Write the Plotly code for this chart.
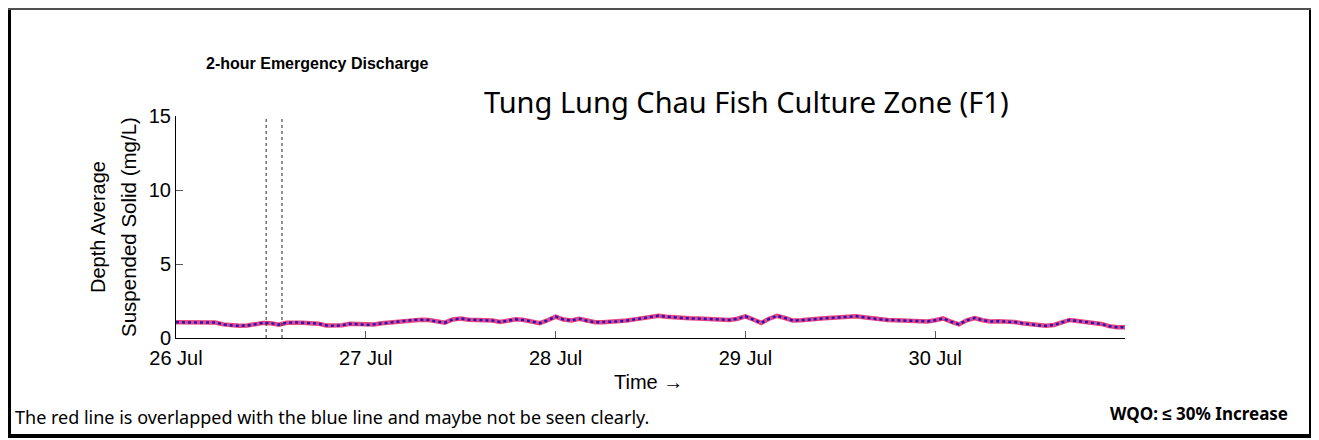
import pandas as pd
import plotly.graph_objects as go

# ---------------- data ----------------
start_time = "2024-07-26 00:00"
# hourly depth-averaged suspended solids (mg/L), 26 Jul 00:00 -> 31 Jul 00:00
ss_values = [
    1.06, 1.05, 1.04, 1.05, 1.06, 1.04, 0.92, 0.84, 0.83, 0.84, 0.92, 1.02,
    1.00, 0.90, 1.03, 1.06, 1.03, 1.00, 0.97, 0.85, 0.82, 0.86, 0.96, 0.93,
    0.88, 0.92, 0.99, 1.05, 1.12, 1.18, 1.22, 1.23, 1.21, 1.10, 1.04, 1.25,
    1.32, 1.24, 1.22, 1.23, 1.18, 1.09, 1.18, 1.26, 1.22, 1.10, 1.00, 1.20,
    1.44, 1.25, 1.18, 1.30, 1.15, 1.06, 1.07, 1.10, 1.12, 1.18, 1.26, 1.35,
    1.45, 1.50, 1.44, 1.38, 1.35, 1.33, 1.32, 1.31, 1.28, 1.25, 1.22, 1.30,
    1.46, 1.25, 1.02, 1.30, 1.50, 1.35, 1.18, 1.20, 1.26, 1.30, 1.33, 1.36,
    1.40, 1.45, 1.47, 1.40, 1.32, 1.26, 1.22, 1.20, 1.17, 1.15, 1.13, 1.12,
    1.20, 1.32, 1.10, 0.92, 1.20, 1.35, 1.20, 1.12, 1.13, 1.12, 1.08, 1.00,
    0.92, 0.85, 0.82, 0.88, 1.05, 1.22, 1.15, 1.08, 1.02, 0.95, 0.80, 0.72,
    0.72,
]
# the blue (with discharge) and red (baseline) series overlap
ss_baseline = list(ss_values)
ss_discharge = list(ss_values)

times = pd.date_range(start_time, periods=len(ss_values), freq="h")

discharge_window = ["2024-07-26 11:24", "2024-07-26 13:24"]
tick_dates = ["2024-07-26", "2024-07-27", "2024-07-28", "2024-07-29", "2024-07-30"]
tick_labels = ["26 Jul", "27 Jul", "28 Jul", "29 Jul", "30 Jul"]
y_ticks = [0, 5, 10, 15]
x_range = ["2024-07-26 00:00", "2024-07-31 00:00"]
y_range = [0, 15]

# ---------------- figure ----------------
W, H = 1319, 440
OFF = 8                      # page body margin in the browser
PL, PR, PT, PB = 176, 1125, 116, 338   # plot box in screen pixels
pw, ph = PR - PL, PB - PT
L, T = PL - OFF, PT - OFF
R, B = W - L - pw, H - T - ph


def px_x(px):
    return (px - PL) / pw


def px_y(py):
    return (PB - py) / ph


fig = go.Figure()
fig.add_trace(go.Scatter(
    x=times, y=ss_baseline, mode="lines",
    line=dict(color="rgb(230,70,130)", width=4.5),
    hoverinfo="skip", showlegend=False,
))
fig.add_trace(go.Scatter(
    x=times, y=ss_discharge, mode="lines",
    line=dict(color="rgb(40,20,190)", width=2.5, dash="dot"),
    showlegend=False,
))

for t in discharge_window:
    fig.add_shape(type="line", xref="x", yref="y", x0=t, x1=t,
                  y0=y_range[0], y1=y_range[1],
                  line=dict(color="rgb(40,40,40)", width=1, dash="dot"))

arial = "Liberation Sans, Arial, sans-serif"
aptos = "Noto Sans, sans-serif"

fig.update_xaxes(
    type="date", range=x_range, tickvals=tick_dates, ticktext=tick_labels,
    showline=True, linecolor="black", linewidth=1,
    ticks="inside", ticklen=7, tickcolor="rgb(90,90,90)",
    showgrid=False, zeroline=False, ticklabelstandoff=2,
    tickfont=dict(family=arial, size=20, color="black"),
)
fig.update_yaxes(
    range=y_range, tickvals=y_ticks,
    showline=True, linecolor="black", linewidth=1,
    ticks="inside", ticklen=7, tickcolor="rgb(90,90,90)",
    showgrid=False, zeroline=False,
    tickfont=dict(family=arial, size=20, color="black"),
)

annotations = [
    dict(text="Depth Average", x=px_x(98), y=px_y(227), textangle=-90,
         font=dict(family=arial, size=20, color="black")),
    dict(text="Suspended Solid (mg/L)", x=px_x(128), y=px_y(227), textangle=-90,
         font=dict(family=arial, size=20.5, color="black")),
    dict(text="Time \u2192", x=px_x(648), y=px_y(382),
         font=dict(family=arial, size=20, color="black")),
    dict(text="<b>2-hour Emergency Discharge</b>", x=px_x(317), y=px_y(64),
         font=dict(family=arial, size=16, color="black")),
    dict(text="Tung Lung Chau Fish Culture Zone (F1)", x=px_x(746), y=px_y(101),
         font=dict(family=aptos, size=29, color="black")),
    dict(text="The red line is overlapped with the blue line and maybe not be seen clearly.",
         x=px_x(13), y=px_y(417), xanchor="left",
         font=dict(family=aptos, size=18, color="black")),
    dict(text="<b>WQO: \u2264 30% Increase</b>", x=px_x(1290), y=px_y(413),
         xanchor="right",
         font=dict(family=aptos, size=17, color="black")),
]
for a in annotations:
    a.setdefault("xanchor", "center")
    a.update(xref="paper", yref="paper", yanchor="middle", showarrow=False)
fig.update_layout(annotations=annotations)

# outer frame (the browser body margin hides anything left of / above 8 px)
frame = [
    (9.5, 8, 9.5, 438, "black", 3),
    (1311, 8, 1311, 438, "black", 4),
    (8, 9, 1311, 9, "rgb(80,80,80)", 2),
    (8, 436, 1311, 436, "black", 4),
]
for x0, y0, x1, y1, c, w in frame:
    fig.add_shape(type="line", xref="paper", yref="paper",
                  x0=px_x(x0), y0=px_y(y0), x1=px_x(x1), y1=px_y(y1),
                  line=dict(color=c, width=w))

fig.update_layout(
    width=W, height=H,
    margin=dict(l=L, r=R, t=T, b=B),
    paper_bgcolor="white", plot_bgcolor="white",
    showlegend=False,
)

fig.write_html("out.html")
